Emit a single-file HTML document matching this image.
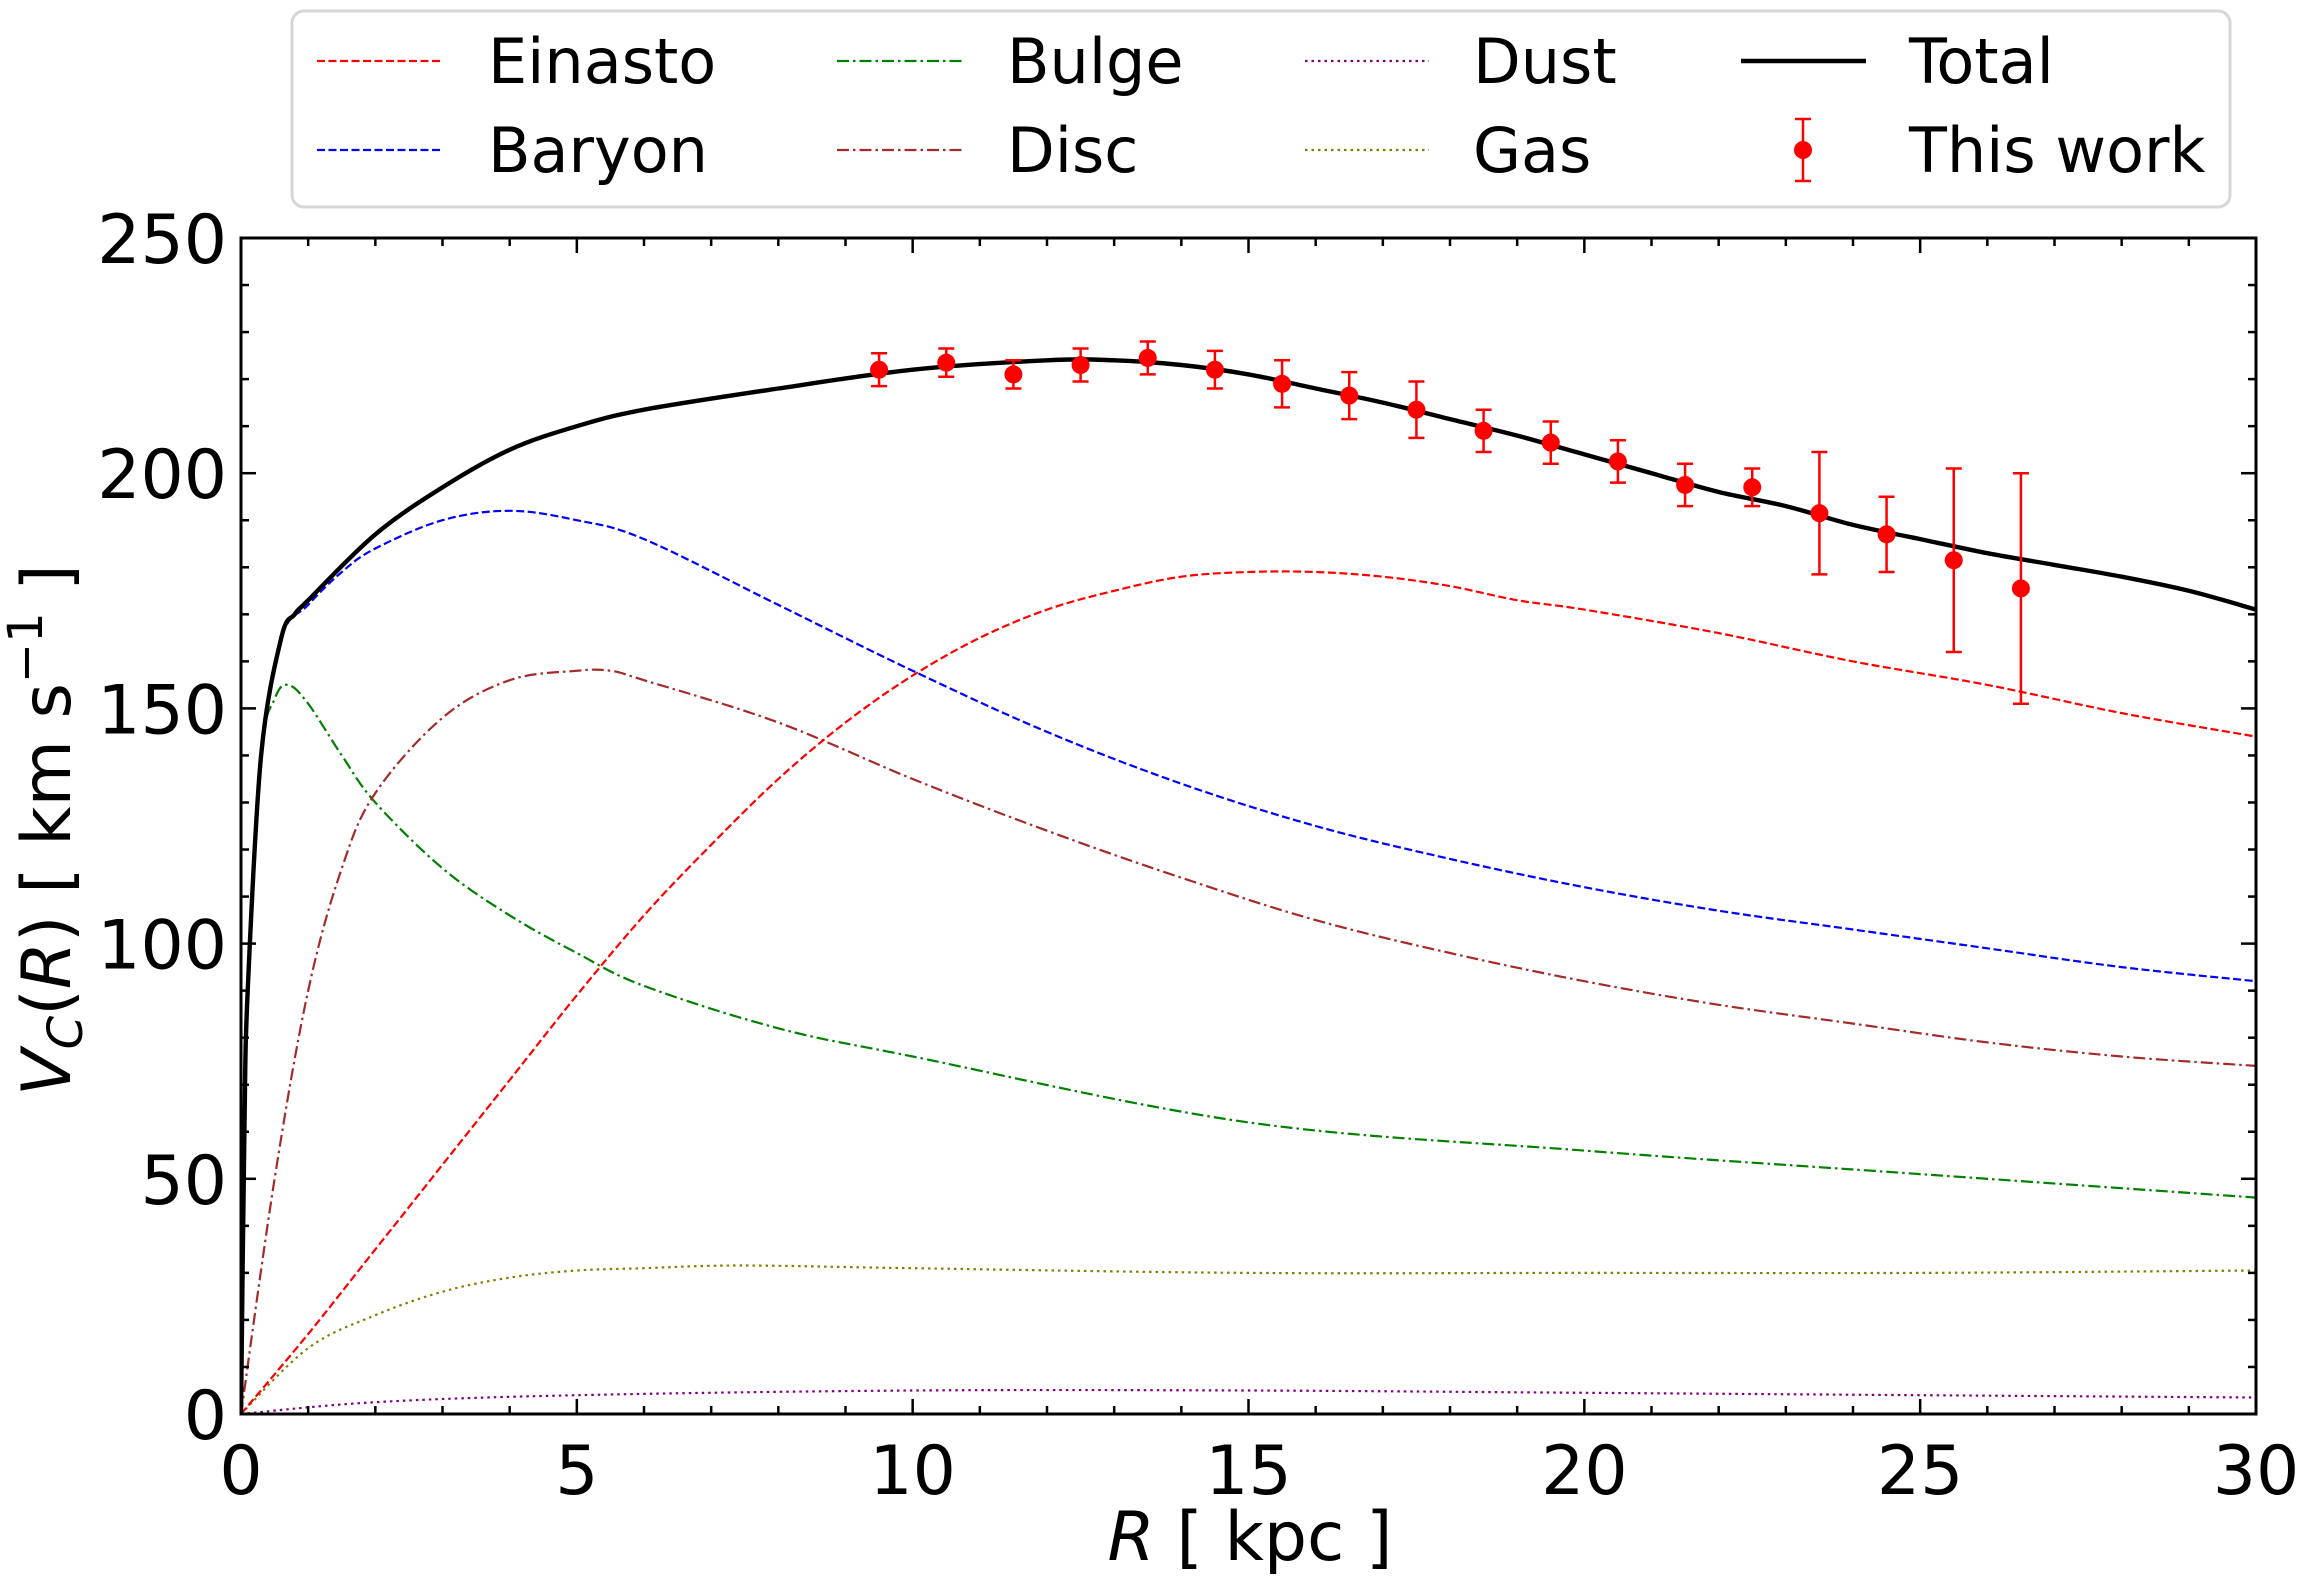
<!DOCTYPE html>
<html><head><meta charset="utf-8"><style>
html,body{margin:0;padding:0;background:#fff;}
svg{display:block;font-family:"DejaVu Sans","Liberation Sans",sans-serif;}
</style></head><body>
<svg id="chart" width="2311" height="1581" viewBox="0 0 2311 1581">
<g id="plot"></g>
<g id="axes"></g>
</svg>
<script>
const xTicks=[0,5,10,15,20,25,30];
const yTicks=[0,50,100,150,200,250];
const einastoR=[0,1,2,3,4,5,6,7,8,9,10,11,12,13,14,15,16,17,18,19,20,22,24,26,28,30];
const einastoV=[0,17,35,53,71,89,106,121,135,147,157,165,171,175,178,179,179,178,176,173,171,166,160,155,149,144];
const baryonR=[0,0.05,0.1,0.3,0.6,1,1.5,2,3,4,5,6,8,10,12,14,16,18,20,22,24,26,28,30];
const baryonV=[0,60,90,140,165,172,179,184,190,192,190,186,172,158,145,134,125,118,112,107,103,99,95,92];
const bulgeR=[0,0.05,0.1,0.3,0.5,0.7,1,1.5,2,3,4,5,6,8,10,15,20,25,30];
const bulgeV=[0,60,90,140,152,155,151,140,130,116,106,98,91,82,76,62,56,51,46];
const discR=[0,0.5,1,1.5,2,3,4,5,5.5,6,8,10,12,14,16,18,20,22,24,26,28,30];
const discV=[0,50,90,116,132,148,156,158,158,156,147,135,124,114,105,98,92,87,83,79,76,74];
const gasR=[0,1,2,3,4,5,6,7,8,10,15,20,25,30];
const gasV=[0,14,21,26,29,30.5,31,31.5,31.5,31,30,30,30,30.5];
const dustR=[0,2,5,10,15,20,25,30];
const dustV=[0,2.5,4,5,5,4.5,4,3.5];
const totalR=[0,0.05,0.1,0.3,0.6,0.8,1,2,3,4,5,6,8,10,12,13,14,15,16,17,18,19,20,21,22,23,24,25,26,27,28,29,30];
const totalV=[0,60,90,140,165,170,173,187,197,205,210,213.5,218,222,224,224,223,221,218,215,211.5,208,204,200,196,193,189,186,183,180.5,178,175,171];
const obsR=[9.5,10.5,11.5,12.5,13.5,14.5,15.5,16.5,17.5,18.5,19.5,20.5,21.5,22.5,23.5,24.5,25.5,26.5];
const obsV=[222,223.5,221,223,224.5,222,219,216.5,213.5,209,206.5,202.5,197.5,197,191.5,187,181.5,175.5];
const obsErr=[3.5,3,3,3.5,3.5,4,5,5,6,4.5,4.5,4.5,4.5,4,13,8,19.5,24.5];

const X0=241,X1=2256,Y0=1414,Y1=238;
const sx=r=>X0+(r/30)*(X1-X0);
const sy=v=>Y0-(v/250)*(Y0-Y1);
const NS='http://www.w3.org/2000/svg';
function mk(tag,attrs,parent){const e=document.createElementNS(NS,tag);for(const k in attrs)e.setAttribute(k,attrs[k]);parent.appendChild(e);return e;}
const plot=document.getElementById('plot'),axes=document.getElementById('axes');
const cp=mk('clipPath',{id:'clip'},plot);
mk('rect',{x:X0,y:Y1,width:X1-X0,height:Y0-Y1},cp);

function smoothPath(P){
  let d='M'+P[0][0].toFixed(1)+','+P[0][1].toFixed(1);
  for(let i=0;i<P.length-1;i++){
    const p0=P[Math.max(0,i-1)],p1=P[i],p2=P[i+1],p3=P[Math.min(P.length-1,i+2)];
    const t=0.17;
    const c1=[p1[0]+(p2[0]-p0[0])*t,p1[1]+(p2[1]-p0[1])*t];
    const c2=[p2[0]-(p3[0]-p1[0])*t,p2[1]-(p3[1]-p1[1])*t];
    d+='C'+c1[0].toFixed(1)+','+c1[1].toFixed(1)+' '+c2[0].toFixed(1)+','+c2[1].toFixed(1)+' '+p2[0].toFixed(1)+','+p2[1].toFixed(1);
  }
  return d;
}
function curve(R,V,name,color,w,dash){
  const P=R.map((r,i)=>[sx(r),sy(V[i])]);
  const p=mk('path',{d:smoothPath(P),fill:'none',stroke:color,'stroke-width':w,'stroke-dasharray':dash||'none','stroke-linejoin':'round','clip-path':'url(#clip)'},plot);
  
  
}
curve(dustR,dustV,'dust-curve','#800080',2.2,'2.5 4');
curve(gasR,gasV,'gas-curve','#808000',2.2,'2.5 4');
curve(bulgeR,bulgeV,'bulge-curve','#008000',2.2,'12 4 2.5 4');
curve(discR,discV,'disc-curve','#a52a2a',2.2,'12 4 2.5 4');
curve(baryonR,baryonV,'baryon-curve','#0000ff',2.2,'8 3.5');
curve(einastoR,einastoV,'einasto-curve','#ff0000',2.2,'8 3.5');
curve(totalR,totalV,'total-curve','#000',4.4,null);

obsR.forEach((r,i)=>{
  const g=mk('g',{},plot);
  
  
  const x=sx(r),yt=sy(obsV[i]+obsErr[i]),yb=sy(obsV[i]-obsErr[i]);
  mk('line',{x1:x,x2:x,y1:yt,y2:yb,stroke:'#f00','stroke-width':2.5},g);
  mk('line',{x1:x-8,x2:x+8,y1:yt,y2:yt,stroke:'#f00','stroke-width':2.5},g);
  mk('line',{x1:x-8,x2:x+8,y1:yb,y2:yb,stroke:'#f00','stroke-width':2.5},g);
  mk('circle',{cx:x,cy:sy(obsV[i]),r:9,fill:'#f00'},g);
});

const fr=mk('rect',{x:X0,y:Y1,width:X1-X0,height:Y0-Y1,fill:'none',stroke:'#000','stroke-width':3},axes);


for(let r=0;r<=30;r++){const x=sx(r),L=(r%5===0)?15:8;
  mk('line',{x1:x,x2:x,y1:Y0,y2:Y0-L,stroke:'#000','stroke-width':2.5},axes);
  mk('line',{x1:x,x2:x,y1:Y1,y2:Y1+L,stroke:'#000','stroke-width':2.5},axes);}
for(let v=0;v<=250;v+=10){const y=sy(v),L=(v%50===0)?15:8;
  mk('line',{x1:X0,x2:X0+L,y1:y,y2:y,stroke:'#000','stroke-width':2.5},axes);
  mk('line',{x1:X1,x2:X1-L,y1:y,y2:y,stroke:'#000','stroke-width':2.5},axes);}
xTicks.forEach(t=>{const e=mk('text',{x:sx(t),y:Y0+80,'font-size':68,'text-anchor':'middle'},axes);e.textContent=t;
  
  });
yTicks.forEach(t=>{const e=mk('text',{x:X0-14,y:sy(t)+25,'font-size':68,'text-anchor':'end'},axes);e.textContent=t;
  
  });
</script>
<svg style="position:absolute;left:0;top:0" width="2311" height="1581">
<text x="1250" y="1560" font-size="68" text-anchor="middle" font-family="DejaVu Sans, Liberation Sans, sans-serif"><tspan font-style="italic">R</tspan> [ kpc ]</text>
<text transform="translate(70,830) rotate(-90)" font-size="68" text-anchor="middle" font-family="DejaVu Sans, Liberation Sans, sans-serif"><tspan font-style="italic">V</tspan><tspan font-style="italic" font-size="48" dy="12">C</tspan><tspan dy="-12">(</tspan><tspan font-style="italic">R</tspan>) [ km s<tspan font-size="48" dy="-28">−1</tspan><tspan dy="28"> ]</tspan></text>
<g font-family="DejaVu Sans, Liberation Sans, sans-serif" font-size="62">
<rect x="292" y="11" width="1938" height="196" rx="12" fill="#fff" stroke="#d6d6d6" stroke-width="3"/>
<g><line x1="317" x2="441" y1="61" y2="61" stroke="#f00" stroke-width="2.2" stroke-dasharray="8 3.5"/><text x="488" y="83">Einasto</text></g>
<g><line x1="317" x2="441" y1="150" y2="150" stroke="#00f" stroke-width="2.2" stroke-dasharray="8 3.5"/><text x="488" y="172">Baryon</text></g>
<g><line x1="837" x2="962" y1="61" y2="61" stroke="#008000" stroke-width="2.2" stroke-dasharray="12 4 2.5 4"/><text x="1007" y="83">Bulge</text></g>
<g><line x1="837" x2="962" y1="150" y2="150" stroke="#a52a2a" stroke-width="2.2" stroke-dasharray="12 4 2.5 4"/><text x="1007" y="172">Disc</text></g>
<g><line x1="1305" x2="1429" y1="61" y2="61" stroke="#800080" stroke-width="2.2" stroke-dasharray="2.5 4"/><text x="1473" y="83">Dust</text></g>
<g><line x1="1305" x2="1429" y1="150" y2="150" stroke="#808000" stroke-width="2.2" stroke-dasharray="2.5 4"/><text x="1473" y="172">Gas</text></g>
<g><line x1="1741" x2="1866" y1="61" y2="61" stroke="#000" stroke-width="4.4"/><text x="1909" y="83">Total</text></g>
<g><line x1="1803" x2="1803" y1="119" y2="181" stroke="#f00" stroke-width="2.5"/><line x1="1795" x2="1811" y1="119" y2="119" stroke="#f00" stroke-width="2.5"/><line x1="1795" x2="1811" y1="181" y2="181" stroke="#f00" stroke-width="2.5"/><circle cx="1803" cy="150" r="9" fill="#f00"/><text x="1909" y="172">This work</text></g>
</g>
</svg>
</body></html>
